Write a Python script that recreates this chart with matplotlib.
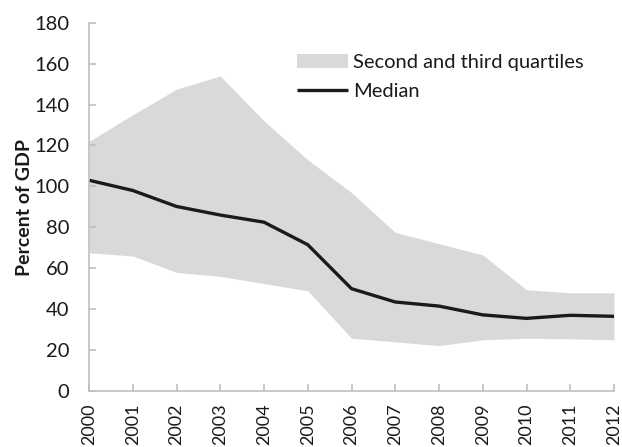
import matplotlib
matplotlib.use("Agg")
import matplotlib.pyplot as plt

years = [2000, 2001, 2002, 2003, 2004, 2005, 2006, 2007, 2008, 2009, 2010, 2011, 2012]
upper = [122, 135, 147.5, 154, 132, 113, 97, 77.5, 72, 66.5, 49.5, 48, 48]
lower = [67.5, 66, 58, 56, 52.5, 49, 25.8, 24, 22.2, 25, 25.8, 25.5, 25]
median = [103, 98, 90.2, 86, 82.5, 71.5, 50, 43.5, 41.5, 37.2, 35.5, 37, 36.5]
yticks = [0, 20, 40, 60, 80, 100, 120, 140, 160, 180]

plt.rcParams['font.family'] = ['Lato', 'DejaVu Sans']
fig = plt.figure(figsize=(6.22, 4.47), dpi=100)
ax = fig.add_axes([89/622, 1-391/447, (614-89)/622, (391-22.7)/447])

ax.fill_between(years, lower, upper, color='#d9d9d9', linewidth=0, label='Second and third quartiles')
ax.plot(years, median, color='#1a1a1a', linewidth=2.4, label='Median', solid_capstyle='butt')

ax.set_xlim(2000, 2012)
ax.set_ylim(0, 180)
ax.set_xticks(years)
ax.set_xticklabels([str(y) for y in years], rotation=90)
ax.set_yticks(yticks)
for s in ['top', 'right']:
    ax.spines[s].set_visible(False)
for s in ['left', 'bottom']:
    ax.spines[s].set_color('#bfbfbf')
    ax.spines[s].set_linewidth(1.2)
ax.tick_params(axis='both', direction='in', length=5, width=1.2, color='#bfbfbf',
               labelcolor='#1a1a1a')
ax.tick_params(axis='y', pad=14, labelsize=14.5)
ax.tick_params(axis='x', pad=9, labelsize=13)
ax.set_ylabel('Percent of GDP', fontsize=14, fontweight='bold', color='#1a1a1a')
ax.yaxis.set_label_coords(33/622, 1-207/447, transform=fig.transFigure)

leg = ax.legend(loc='upper left', bbox_to_anchor=(297/622, 1-54/447), bbox_transform=fig.transFigure,
                frameon=False, fontsize=14.5, handlelength=2.54, handletextpad=0.25,
                labelspacing=0.6, borderpad=0, borderaxespad=0)
for t in leg.get_texts():
    t.set_color('#1a1a1a')

fig.savefig('out.png', dpi=100)
